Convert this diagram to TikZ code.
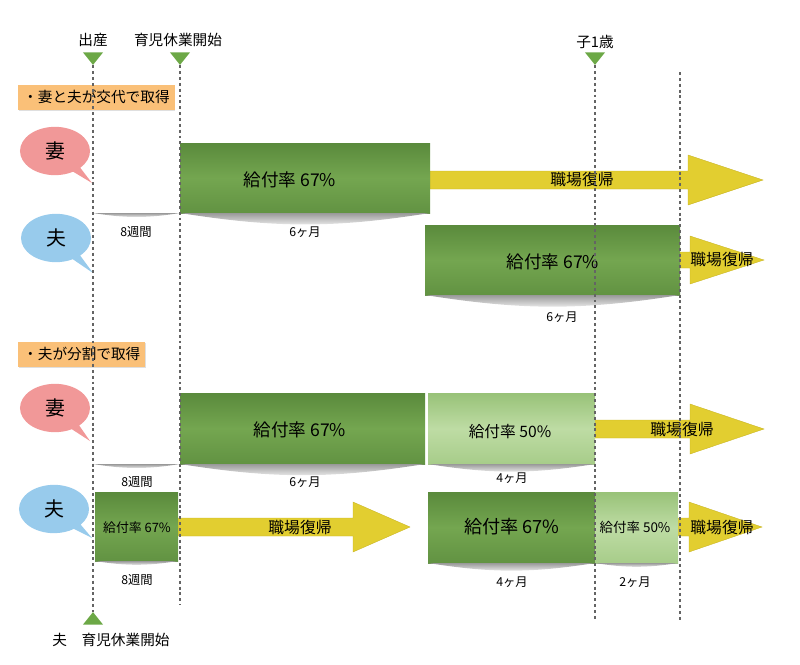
\documentclass[tikz,border=0pt]{standalone}
\usepackage{fontspec}
\setmainfont{Noto Sans CJK JP}
\usetikzlibrary{shapes.geometric,shapes.callouts,fit,shadows}

\definecolor{bargreen}{RGB}{116,166,80}
\definecolor{bardark}{RGB}{90,138,60}
\definecolor{barlight}{RGB}{190,220,164}
\definecolor{barlightdark}{RGB}{152,194,120}
\definecolor{retyellow}{RGB}{226,206,48}
\definecolor{retedge}{RGB}{200,180,34}
\definecolor{tagorange}{RGB}{250,192,120}
\definecolor{wifepink}{RGB}{241,152,152}
\definecolor{husbandblue}{RGB}{152,203,236}
\definecolor{markgreen}{RGB}{108,168,70}
\definecolor{guidegray}{RGB}{100,100,100}

\begin{document}
\begin{tikzpicture}[x=0.03cm, y=-0.03cm]
        \tikzstyle{paybar}=[inner sep=0pt, outer sep=0pt, top color=bardark, bottom color=bardark!70!bargreen, middle color=bargreen];
        \tikzstyle{paybarlight}=[paybar, top color=barlightdark, bottom color=barlightdark!60!barlight, middle color=barlight];
        \tikzstyle{paytext}=[font=\fontsize{15}{18}\selectfont];
        \tikzstyle{gapbar}=[inner sep=0pt, outer sep=0pt];
        \tikzstyle{span}=[font=\fontsize{10.5}{12}\selectfont];
        \tikzstyle{milestone}=[regular polygon, regular polygon sides=3, fill=markgreen, inner sep=0pt, minimum size=0.7cm, yscale=0.72];
        \tikzstyle{title}=[font=\fontsize{12.5}{15}\selectfont];
        \tikzstyle{guide}=[draw=guidegray, line width=1.3pt, dash pattern=on 2.5pt off 2.5pt];
        \tikzstyle{tag}=[fill=tagorange, anchor=west, minimum height=0.75cm, inner xsep=0.15cm, font=\fontsize{12.5}{15}\selectfont, drop shadow={opacity=0.25, shadow xshift=0.6pt, shadow yshift=-1.2pt}];
        \tikzstyle{bubble}=[ellipse callout, minimum width=2.1cm, minimum height=1.45cm, inner sep=0pt, font=\fontsize{17}{20}\selectfont];
        \tikzstyle{ret}=[fill=retyellow, draw=retedge, line width=0.3pt];
        \tikzstyle{rettext}=[font=\fontsize{13.5}{16}\selectfont];

        \useasboundingbox (0,0) rectangle (800,665);

        % milestones
        \node[title] (birthtxt) at (93,40) {出産};
        \node[title] (leavetxt) at (178,40) {育児休業開始};
        \node[title] (age1txt) at (595,42) {子1歳};
        \node[milestone, shape border rotate=180] (birth) at (93,56.5) {};
        \node[milestone, shape border rotate=180] (leave) at (180,56.5) {};
        \node[milestone, shape border rotate=180] (age1) at (595,56.5) {};
        \node[milestone] (hleave) at (93,620.5) {};
        \node[title] (hleavetxt) at (111,640) {夫　育児休業開始};

        % case tags
        \node[tag] (tagA) at (18,97) {・妻と夫が交代で取得};
        \node[tag] (tagB) at (18,354) {・夫が分割で取得};

        % speakers
        \node[bubble, fill=wifepink, callout absolute pointer={(92,183)}] (wifeA) at (55,151) {妻};
        \node[bubble, fill=husbandblue, callout absolute pointer={(93,273)}] (husbandA) at (56,238) {夫};
        \node[bubble, fill=wifepink, callout absolute pointer={(90,441)}] (wifeB) at (55,408) {妻};
        \node[bubble, fill=husbandblue, callout absolute pointer={(92,538)}] (husbandB) at (54,509) {夫};

        % back to work
        \fill[ret] (430,171) -- (688,171) -- (688,155) -- (763,180) -- (688,205) -- (688,189) -- (430,189) -- cycle;
        \fill[ret] (680,252) -- (690,252) -- (690,236) -- (764,260) -- (690,284) -- (690,268) -- (680,268) -- cycle;
        \fill[ret] (595,420) -- (690,420) -- (690,404) -- (764,429) -- (690,454) -- (690,438) -- (595,438) -- cycle;
        \fill[ret] (178,518) -- (353,518) -- (353,502) -- (410,527) -- (353,552) -- (353,536) -- (178,536) -- cycle;
        \fill[ret] (678,518) -- (689,518) -- (689,502) -- (762,527) -- (689,552) -- (689,536) -- (678,536) -- cycle;
        \node[rettext] (retWA) at (582,180) {職場復帰};
        \node[rettext] (retHA) at (722,260) {職場復帰};
        \node[rettext] (retWB) at (682,430) {職場復帰};
        \node[rettext] (retHB1) at (300,527) {職場復帰};
        \node[rettext] (retHB2) at (722,527) {職場復帰};

        % benefit periods
        \node[gapbar, fit={(93,143) (180,213)}] (gapWA) {};
        \node[paybar, fit={(180,143) (430,213)}] (payWA) {};
        \node[paybar, fit={(425,225) (680,295)}] (payHA) {};
        \node[gapbar, fit={(93,393) (180,464)}] (gapWB) {};
        \node[paybar, fit={(180,393) (425,464)}] (payWB1) {};
        \node[paybarlight, fit={(428,393) (595,464)}] (payWB2) {};
        \node[paybar, fit={(95,492) (178,561)}] (payHB1) {};
        \node[paybar, fit={(428,492) (595,563)}] (payHB2) {};
        \node[paybarlight, fit={(595,492) (678,563)}] (payHB3) {};
        \foreach \b in {gapWA,payWA,payHA,gapWB,payWB1,payWB2,payHB1,payHB2,payHB3}
            \shade[top color=black!40, bottom color=white] (\b.south west) to[out=-9, in=-171] (\b.south east) -- cycle;

        \node[paytext] (rateWA) at (290,180) {給付率 67\%};
        \node[paytext] (rateHA) at (553,262) {給付率 67\%};
        \node[paytext] (rateWB1) at (300,430) {給付率 67\%};
        \node[paytext, font=\fontsize{13.4}{16}\selectfont] (rateWB2) at (510,432) {給付率 50\%};
        \node[paytext, font=\fontsize{11}{13}\selectfont] (rateHB1) at (137,528) {給付率 67\%};
        \node[paytext, font=\fontsize{15.5}{18}\selectfont] (rateHB2) at (512,527) {給付率 67\%};
        \node[paytext, font=\fontsize{11.5}{14}\selectfont] (rateHB3) at (635,527) {給付率 50\%};

        % lengths
        \node[span] (spanWA1) at (136,232) {8週間};
        \node[span] (spanWA2) at (305,232) {6ヶ月};
        \node[span] (spanHA) at (562,317) {6ヶ月};
        \node[span] (spanWB1) at (137,482) {8週間};
        \node[span] (spanWB2) at (305,482) {6ヶ月};
        \node[span] (spanWB3) at (512,478) {4ヶ月};
        \node[span] (spanHB1) at (137,580) {8週間};
        \node[span] (spanHB2) at (512,582) {4ヶ月};
        \node[span] (spanHB3) at (635,582) {2ヶ月};

        % guide lines
        \draw[guide] (birth.south) -- (hleave.north);
        \draw[guide] (leave.south) -- (180,605);
        \draw[guide] (age1.south) -- (595,620);
        \draw[guide] (680,72) -- (680,620);
    \end{tikzpicture}
\end{document}
